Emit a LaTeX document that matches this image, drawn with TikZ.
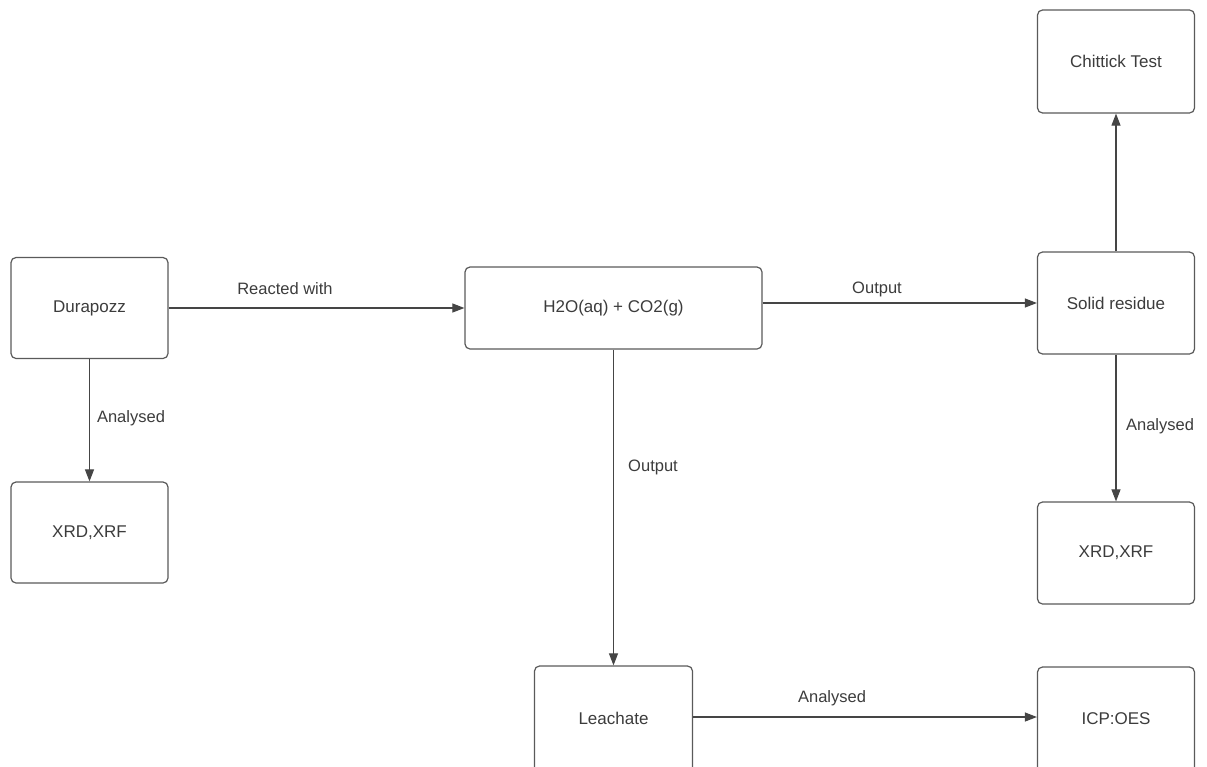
\documentclass[tikz,border=0pt]{standalone}
\usepackage{fontspec}
\setmainfont{Liberation Sans}
\usetikzlibrary{arrows.meta}
\definecolor{txt}{HTML}{3C3C3C}
\definecolor{edge}{HTML}{5A5A5A}
\definecolor{ln}{HTML}{454545}
\begin{document}
\begin{tikzpicture}[x=1pt,y=-1pt,
  box/.style={draw=edge,line width=1.2pt,rounded corners=5pt,fill=white,
    minimum width=157pt,minimum height=101pt,text=txt,
    font=\fontsize{17}{19}\selectfont,inner sep=0pt},
  conn/.style={draw=ln,line width=1.1pt,-{Triangle[length=12pt,width=9pt]}},
  lbl/.style={text=txt,font=\fontsize{16.5}{18}\selectfont,inner sep=0pt}]
\useasboundingbox (0,0) rectangle (1207,766);
\clip (0,0) rectangle (1207,766);
\node[box] (dur) at (89.5,308) {Durapozz};
\node[box] (xrdl) at (89.5,532.5) {XRD,XRF};
\node[box,minimum width=297pt,minimum height=82pt] (h2o) at (613.5,308) {H2O(aq) + CO2(g)};
\node[box,minimum height=102pt] (sol) at (1116,303) {Solid residue};
\node[box,minimum height=103pt] (chi) at (1116,61.5) {Chittick Test};
\node[box,minimum height=102pt] (xrdr) at (1116,553) {XRD,XRF};
\node[box,minimum height=106pt] (icp) at (1116,720) {\raisebox{3pt}{ICP:OES}};
\node[box,minimum width=158pt,minimum height=106pt] (lea) at (613.5,719) {\raisebox{2pt}{Leachate}};
\draw[conn] (dur) -- (h2o);
\draw[conn] (dur) -- (xrdl);
\draw[conn] (h2o.east |- sol.west) -- (sol.west);
\draw[conn] (h2o) -- (lea);
\draw[conn] (sol) -- (chi);
\draw[conn] (sol) -- (xrdr);
\draw[conn] (lea.east |- 0,717) -- (icp.west |- 0,717);
\node[lbl] (l1) at (285,289) {Reacted with};
\node[lbl] (l2) at (877,289) {Output};
\node[lbl] (l3) at (131,418) {Analysed};
\node[lbl] (l4) at (653,467) {Output};
\node[lbl] (l5) at (1160,426) {Analysed};
\node[lbl] (l6) at (832,698) {Analysed};
\end{tikzpicture}
\end{document}
